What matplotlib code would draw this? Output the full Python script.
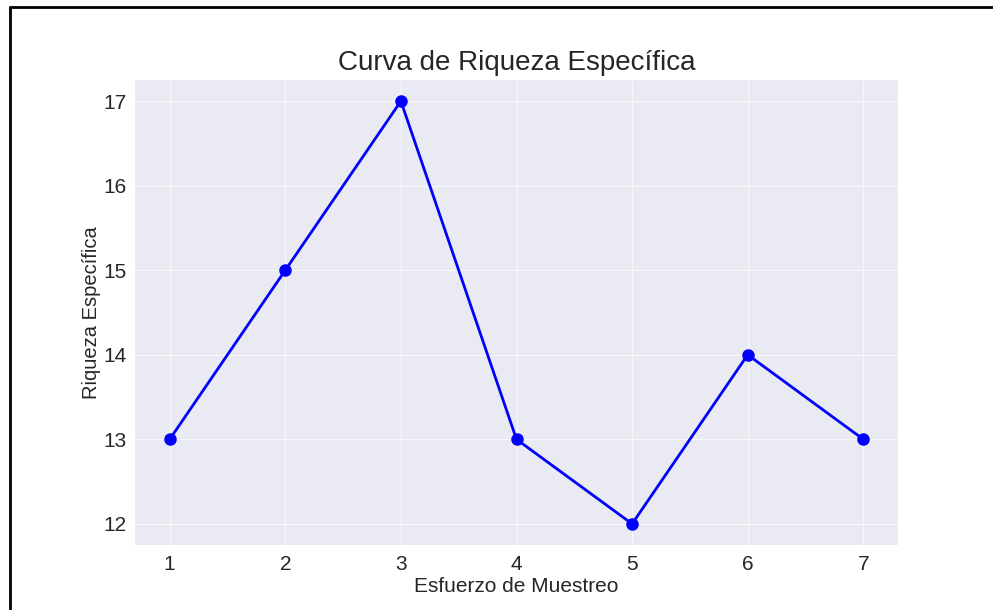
import matplotlib
matplotlib.use("Agg")
import matplotlib.pyplot as plt
from matplotlib.lines import Line2D

esfuerzo = [1, 2, 3, 4, 5, 6, 7]
riqueza = [13, 15, 17, 13, 12, 14, 13]

plt.style.use("seaborn-v0_8-darkgrid")
plt.rcParams['font.family'] = ['Liberation Sans', 'DejaVu Sans']

fig = plt.figure(figsize=(9.93, 6.1), dpi=100)
ax = fig.add_axes([135 / 993, 1 - 545 / 610, (898 - 135) / 993, (545 - 80) / 610])

ax.plot(esfuerzo, riqueza, color="blue", marker="o", linewidth=2, markersize=8)
ax.set_title("Curva de Riqueza Específica", fontsize=20, color="#262626", pad=7)
ax.set_xlabel("Esfuerzo de Muestreo", fontsize=15, color="#262626", labelpad=2)
ax.set_ylabel("Riqueza Específica", fontsize=14.5, color="#262626", labelpad=2)
ax.tick_params(labelsize=15, colors="#262626")
ax.tick_params(axis="x", pad=7)
ax.tick_params(axis="y", pad=6)
ax.grid(True, color="white", linewidth=0.8, alpha=0.7)

# screenshot frame
fig.add_artist(Line2D([10 / 993, 1], [1 - 7 / 610, 1 - 7 / 610], color="black", linewidth=2,
                      transform=fig.transFigure))
fig.add_artist(Line2D([10 / 993, 10 / 993], [0, 1 - 7 / 610], color="black", linewidth=2,
                      transform=fig.transFigure))

fig.savefig("out.png", dpi=100)
